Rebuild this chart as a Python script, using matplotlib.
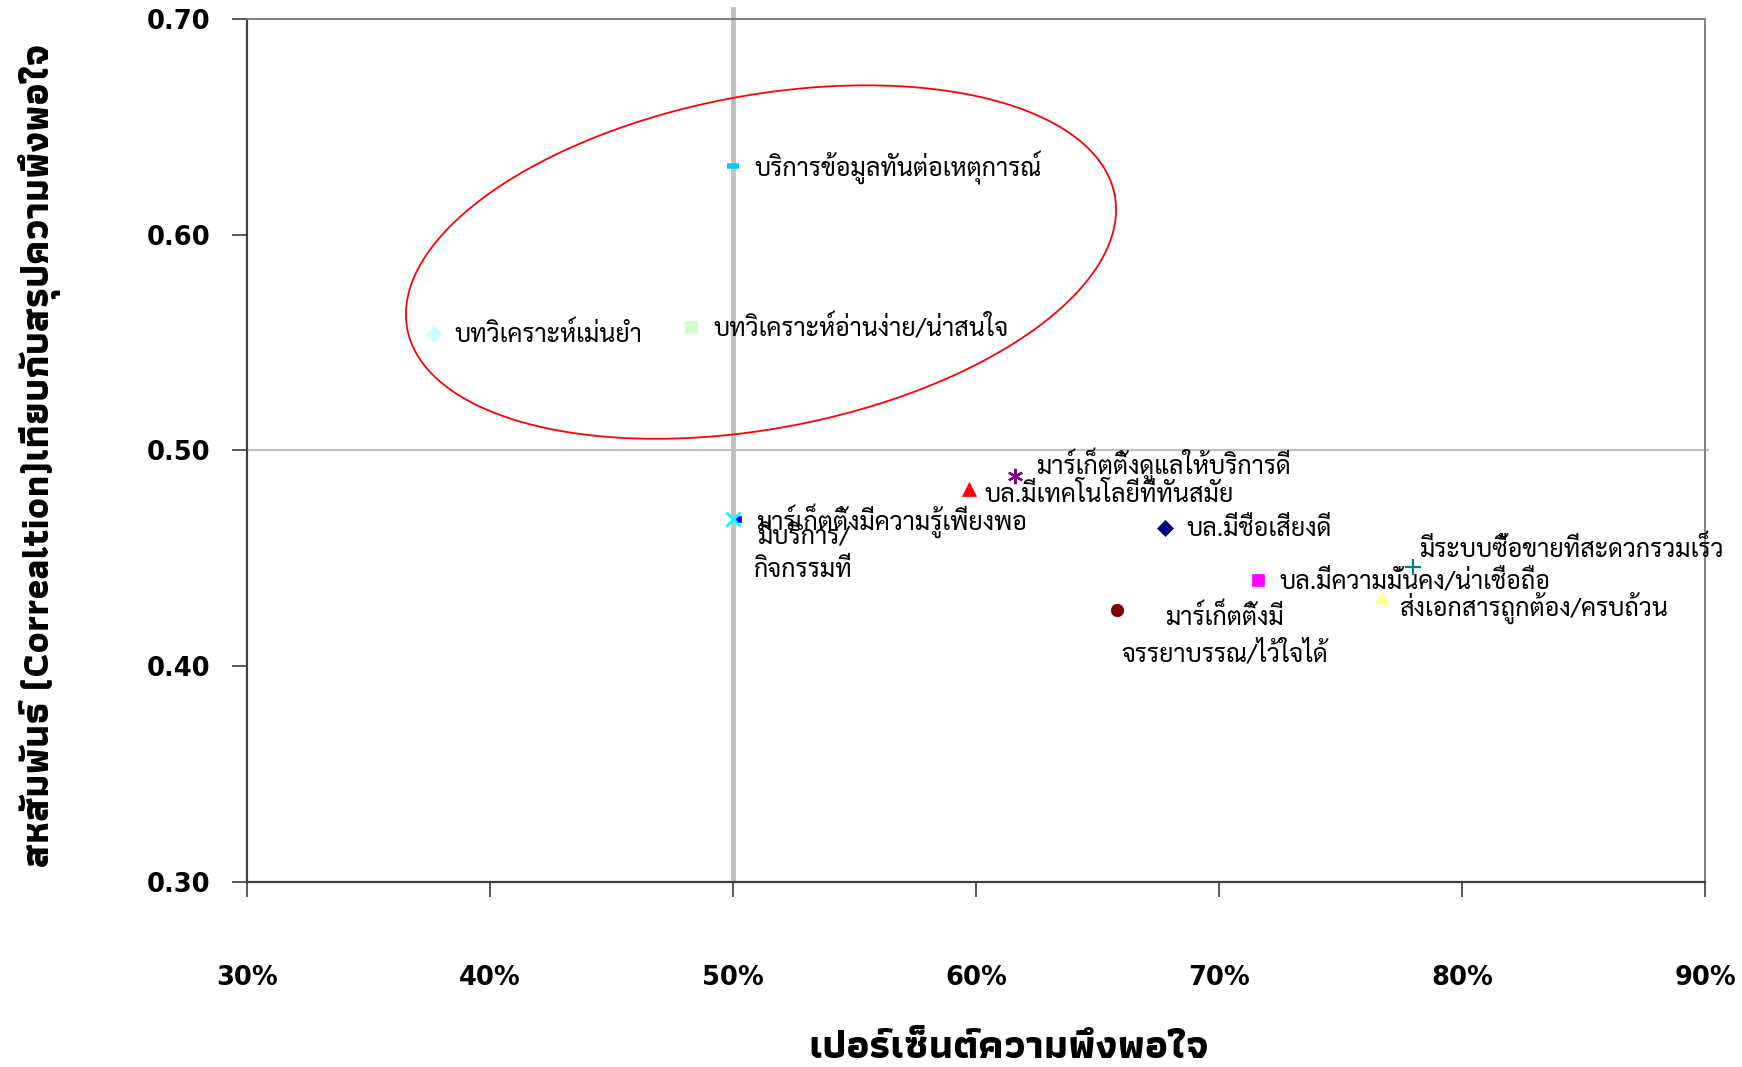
import matplotlib
matplotlib.use("Agg")
import matplotlib.pyplot as plt
import numpy as np
from matplotlib.ticker import FuncFormatter

# ---------------- data ----------------
labels = [
    "บทวิเคราะห์เม่นยำ",
    "บทวิเคราะห์อ่านง่าย/น่าสนใจ",
    "บริการข้อมูลทันต่อเหตุการณ์",
    "มาร์เก็ตติ้งดูแลให้บริการดี",
    "บล.มีเทคโนโลยีที่ทันสมัย",
    "มาร์เก็ตติ้งมีความรู้เพียงพอ",
    "มีบริการ/\nกิจกรรมที่",
    "บล.มีชื่อเสียงดี",
    "มีระบบซื้อขายที่สะดวกรวมเร็ว",
    "บล.มีความมั่นคง/น่าเชื่อถือ",
    "ส่งเอกสารถูกต้อง/ครบถ้วน",
    "มาร์เก็ตติ้งมี\nจรรยาบรรณ/ไว้ใจได้",
]
satisfaction = [0.377, 0.483, 0.500, 0.616, 0.597, 0.502, 0.500, 0.678, 0.780, 0.716, 0.767, 0.658]
correlation = [0.554, 0.557, 0.632, 0.488, 0.482, 0.468, 0.468, 0.464, 0.446, 0.440, 0.432, 0.426]

x_ticks = [0.3, 0.4, 0.5, 0.6, 0.7, 0.8, 0.9]
y_ticks = [0.30, 0.40, 0.50, 0.60, 0.70]

x_title = "เปอร์เซ็นต์ความพึงพอใจ"
y_title = "สหสัมพันธ์ (Correaltion)เทียบกับสรุปความพึงพอใจ"

# ---------------- styles ----------------
markers = ["D", "s", "_", (6, 2, 0), "^", "s", "x", "D", "+", "s", "^", "o"]
colors = ["#CCFFFF", "#CCFFCC", "#00CCFF", "#800080", "#FF0000", "#0000FF",
          "#00FFFF", "#000080", "#008080", "#FF00FF", "#FFFF99", "#800000"]
msizes = [8, 9, 9, 11, 10, 4.5, 10, 8, 11, 9, 10, 9]
mews = [0.5, 0.5, 4, 1.6, 0.5, 0.5, 2, 0.5, 1.6, 0.5, 0.5, 0.5]
# label offsets (pixels) and alignment
offsets = [(21, -1), (22, -2), (22, -2), (21, 12), (16, -6), (18, -1),
           (71, -34), (21, -1), (6, 17), (22, -2), (17, -11), (108, -26)]
haligns = ["left"] * 6 + ["center"] + ["left"] * 4 + ["center"]

label_family = ["Sarabun", "DejaVu Sans"]
title_family = ["Athiti", "DejaVu Sans"]

fig = plt.figure(figsize=(17.42, 10.67), dpi=100)
ax = fig.add_axes([0.1416, 0.1734, 0.8372, 0.8089])
ax.set_xlim(0.3, 0.9)
ax.set_ylim(0.3, 0.7)

# reference lines
ax.axvline(0.5, ymin=0.005, ymax=1.012, color="#C0C0C0", lw=3.5, zorder=1, clip_on=False)
ax.axhline(0.5, xmin=0, xmax=1.002, color="#C0C0C0", lw=1.6, zorder=1, clip_on=False)

for i in range(len(labels)):
    ax.plot(satisfaction[i], correlation[i], linestyle="none", marker=markers[i], ms=msizes[i],
            color=colors[i], mec=colors[i], mew=mews[i], zorder=3)
    ax.annotate(labels[i], (satisfaction[i], correlation[i]), xytext=offsets[i],
                textcoords="offset pixels", ha=haligns[i], va="center",
                multialignment="center", fontsize=18, family=label_family,
                linespacing=1.45, zorder=4, annotation_clip=False)

# red ellipse (drawn in pixel space around a data-space center)
fig.canvas.draw()
cx, cy = 0.5116, 0.5873
ccx, ccy = ax.transData.transform((cx, cy))
t = np.linspace(0, 2 * np.pi, 400)
a, b, th = 360, 166.5, np.deg2rad(10.7)
px = ccx + a * np.cos(t) * np.cos(th) - b * np.sin(t) * np.sin(th)
py = ccy + a * np.cos(t) * np.sin(th) + b * np.sin(t) * np.cos(th)
ed = ax.transData.inverted().transform(np.column_stack([px, py]))
ax.plot(ed[:, 0], ed[:, 1], color="#FF0000", lw=1.3, zorder=2)

# axes style
for s in ["left", "bottom"]:
    ax.spines[s].set_color("#404040")
    ax.spines[s].set_linewidth(1.6)
for s in ["top", "right"]:
    ax.spines[s].set_color("#808080")
    ax.spines[s].set_linewidth(1.4)

ax.set_xticks(x_ticks)
ax.set_yticks(y_ticks)
ax.xaxis.set_major_formatter(FuncFormatter(lambda v, p: f"{v*100:.0f}%"))
ax.yaxis.set_major_formatter(FuncFormatter(lambda v, p: f"{v:.2f}"))
ax.tick_params(axis="x", direction="out", length=11, width=1.2, color="#404040", pad=49)
ax.tick_params(axis="y", direction="out", length=11, width=1.2, color="#404040", pad=15)
for lab in ax.get_xticklabels() + ax.get_yticklabels():
    lab.set_fontfamily("DejaVu Sans")
    lab.set_fontweight("bold")
    lab.set_fontsize(18.5)

fig.text(0.5792, 0.0178, x_title, ha="center", va="center",
         fontsize=29, fontweight="bold", family=title_family)
fig.text(0.0225, 0.573, y_title, ha="center",
         va="center", rotation=90, fontsize=27.7, fontweight="bold", family=title_family)

fig.savefig("out.png", dpi=100)
